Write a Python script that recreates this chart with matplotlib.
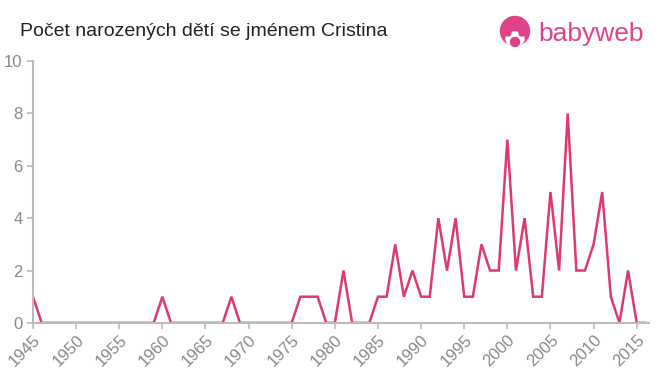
import matplotlib
matplotlib.use('Agg')
import matplotlib.pyplot as plt
from matplotlib.patches import Ellipse

plt.rcParams['font.family'] = ['Liberation Sans', 'DejaVu Sans']

years = list(range(1945, 2017))
counts = [1, 0, 0, 0, 0, 0, 0, 0, 0, 0,   # 1945-1954
          0, 0, 0, 0, 0, 1, 0, 0, 0, 0,   # 1955-1964
          0, 0, 0, 1, 0, 0, 0, 0, 0, 0,   # 1965-1974
          0, 1, 1, 1, 0, 0, 2, 0, 0, 0,   # 1975-1984
          1, 1, 3, 1, 2, 1, 1, 4, 2, 4,   # 1985-1994
          1, 1, 3, 2, 2, 7, 2, 4, 1, 1,   # 1995-2004
          5, 2, 8, 2, 2, 3, 5, 1, 0, 2,   # 2005-2014
          0, 0]                           # 2015-2016
xticks = list(range(1945, 2016, 5))
yticks = [0, 2, 4, 6, 8, 10]

title = 'Počet narozených dětí se jménem Cristina'
line_color = '#de3a6c'
axis_color = '#bbbbbb'
label_color = '#888888'

fig = plt.figure(figsize=(6.6, 3.75), dpi=100)
ax = fig.add_axes([0.05, 0.139, 0.933, 0.698])

ax.plot(years, counts, color=line_color, lw=1.8, solid_joinstyle='miter')
ax.set_xlim(1945, 2016.4)
ax.set_ylim(0, 10)
ax.set_xticks(xticks)
ax.set_yticks(yticks)
ax.set_xticklabels([str(x) for x in xticks], rotation=45, ha='right',
                   rotation_mode='anchor')
ax.tick_params(colors=axis_color, labelcolor=label_color, labelsize=12,
               length=4, width=1.2)
ax.tick_params(axis='x', pad=3)
for s in ['top', 'right']:
    ax.spines[s].set_visible(False)
for s in ['left', 'bottom']:
    ax.spines[s].set_color(axis_color)
    ax.spines[s].set_linewidth(1.5)

fig.text(20 / 660, 1 - 31 / 375, title, fontsize=14, color='#222222',
         va='center', ha='left')

# babyweb logo
logo_color = '#e0428a'
def blob(x, y, w, h, c):
    fig.patches.append(Ellipse((x / 660, 1 - y / 375), w / 660, h / 375,
                               transform=fig.transFigure, color=c))
blob(515, 31, 29, 29, logo_color)
blob(515, 39, 18, 14, 'white')
blob(508, 33, 6, 6, logo_color)
blob(522, 33, 6, 6, logo_color)
blob(515, 42, 9, 9, logo_color)
fig.text(538 / 660, 1 - 34 / 375, 'babyweb', fontsize=19, color=logo_color,
         va='center', ha='left')

fig.savefig('out.png', dpi=100)
